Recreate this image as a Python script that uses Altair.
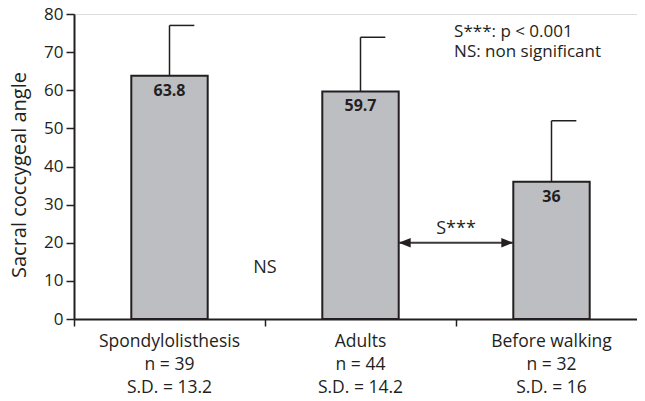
import altair as alt
import pandas as pd

# ---- data ----
categories = ["Spondylolisthesis", "Adults", "Before walking"]
n_values = [39, 44, 32]
means = [63.8, 59.7, 36]
sds = [13.2, 14.2, 16]
mean_labels = ["63.8", "59.7", "36"]
sd_labels = ["13.2", "14.2", "16"]
y_ticks = [0, 10, 20, 30, 40, 50, 60, 70, 80]

legend_lines = ["S***: p < 0.001", "NS: non significant"]
legend_y = [74.0, 68.6]
ns_text = "NS"
ns_pos = [1.0, 12.0]
sig_text = "S***"
sig_arrow = [1.7, 2.3, 20.0]   # from Adults bar edge to Before walking bar edge, at y=20
sig_text_y = 22.2

FONT = "Open Sans"
TXT = "#231f20"
FILL = "#bdbec2"
EDGE = "#231f20"

pos = list(range(len(categories)))
df = pd.DataFrame({
    "cat": categories,
    "x0": [p + 0.3 for p in pos],
    "x1": [p + 0.7 for p in pos],
    "xc": [p + 0.5 for p in pos],
    "cap": [p + 0.63 for p in pos],
    "mean": means,
    "top": [m + s for m, s in zip(means, sds)],
    "mlabel": mean_labels,
    "xlabel": [f"{c}\nn = {n}\nS.D. = {s}" for c, n, s in zip(categories, n_values, sd_labels)],
})

W, H = 563, 305
XMAX = W / 191.0
xscale = alt.Scale(domain=[0, XMAX], nice=False, zero=False)
yscale = alt.Scale(domain=[0, 80], nice=False)

base = alt.Chart(df)

x_axis = alt.Axis(values=[0, 1, 2], labels=False, title=None, grid=False,
                  tickSize=7, tickColor=EDGE, tickWidth=1.5,
                  domainColor=EDGE, domainWidth=2)
y_axis = alt.Axis(values=y_ticks, tickCount=9, title="Sacral coccygeal angle", grid=False,
                  tickSize=8, tickColor=EDGE, tickWidth=1.5,
                  domainColor=EDGE, domainWidth=2, labelOverlap=False,
                  labelFont=FONT, labelFontSize=17, labelColor=TXT, labelPadding=3,
                  titleFont=FONT, titleFontSize=20, titleFontWeight="normal", titleColor=TXT,
                  titleX=-55, titleY=H / 2 + 8, titleAngle=270, titleAlign="center",
                  titleBaseline="middle")

bars = base.mark_rect(fill=FILL, stroke=EDGE, strokeWidth=2).encode(
    x=alt.X("x0:Q", scale=xscale, axis=x_axis),
    x2="x1:Q",
    y=alt.Y("mean:Q", scale=yscale, axis=y_axis),
    y2=alt.datum(0),
)

err = base.mark_rule(color=EDGE, strokeWidth=1.5).encode(
    x=alt.X("xc:Q", scale=xscale, axis=x_axis),
    y=alt.Y("mean:Q", scale=yscale, axis=y_axis), y2="top:Q")
cap = base.mark_rule(color=EDGE, strokeWidth=1.5).encode(
    x=alt.X("xc:Q", scale=xscale, axis=x_axis), x2="cap:Q",
    y=alt.Y("top:Q", scale=yscale, axis=y_axis))

bar_labels = base.mark_text(font=FONT, fontSize=16, fontWeight="bold", color=TXT,
                            baseline="alphabetic", dy=20).encode(
    x="xc:Q", y="mean:Q", text="mlabel:N")

x_labels = base.mark_text(font=FONT, fontSize=17.5, color=TXT, baseline="alphabetic",
                          lineBreak="\n", lineHeight=23).encode(
    x="xc:Q", y=alt.value(H + 28), text="xlabel:N")

ann = pd.DataFrame({"x": [ns_pos[0]], "y": [ns_pos[1]], "t": [ns_text]})
ns = alt.Chart(ann).mark_text(font=FONT, fontSize=18, color=TXT, baseline="alphabetic").encode(
    x="x:Q", y="y:Q", text="t:N")

sig_df = pd.DataFrame({"x": [(sig_arrow[0] + sig_arrow[1]) / 2], "y": [sig_text_y], "t": [sig_text]})
sig = alt.Chart(sig_df).mark_text(font=FONT, fontSize=18, color=TXT, baseline="alphabetic").encode(
    x="x:Q", y="y:Q", text="t:N")

arrow_df = pd.DataFrame({"x": [sig_arrow[0]], "x2": [sig_arrow[1]], "y": [sig_arrow[2]]})
arrow_line = alt.Chart(arrow_df).mark_rule(color="#3a3a3a", strokeWidth=2).encode(
    x="x:Q", x2="x2:Q", y="y:Q")
head_l = alt.Chart(arrow_df).mark_point(shape="M 0 0 L 2 -0.8 L 2 0.8 Z", size=144,
                                        filled=True, color="#231f20", opacity=1).encode(
    x="x:Q", y="y:Q")
head_r = alt.Chart(arrow_df).mark_point(shape="M 0 0 L -2 -0.8 L -2 0.8 Z", size=144,
                                        filled=True, color="#231f20", opacity=1).encode(
    x="x2:Q", y="y:Q")

leg_df = pd.DataFrame({"x": [1.99] * len(legend_lines), "y": legend_y, "t": legend_lines})
legend = alt.Chart(leg_df).mark_text(font=FONT, fontSize=17, color=TXT, align="left",
                                     baseline="alphabetic").encode(
    x="x:Q", y="y:Q", text="t:N")

chart = alt.layer(bars, err, cap, bar_labels, x_labels, ns, arrow_line, head_l, head_r,
                  sig, legend).properties(
    width=W, height=H,
    padding={"left": 66, "top": 6, "right": 0, "bottom": 82},
    autosize=alt.AutoSizeParams(type="none"),
).configure_view(stroke=None).configure(background="white")

chart.save("out.html", embed_options={"renderer": "svg", "actions": False})
